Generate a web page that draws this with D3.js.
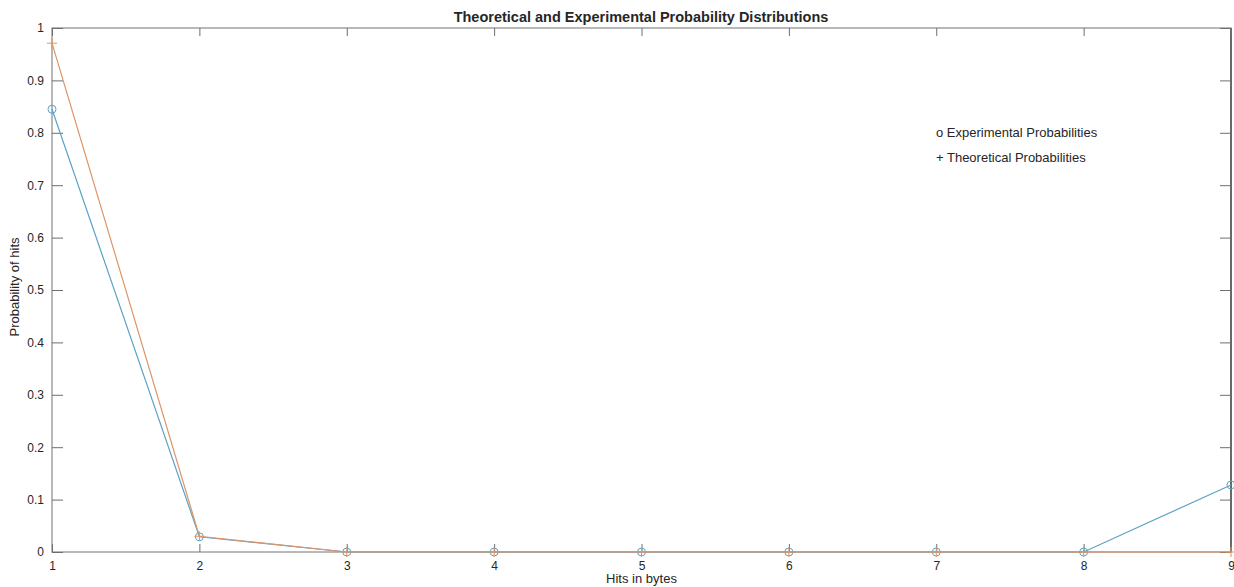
<!DOCTYPE html>
<meta charset="utf-8">
<title>Probability Distributions</title>
<style>
body{margin:0;background:#fff;}
text{font-family:"Liberation Sans",Arial,sans-serif;fill:#262626;}
.tick text{font-size:12px;}
.domain{display:none;}
.tick line{stroke:#6e6e6e;}
</style>
<body>
<script src="https://d3js.org/d3.v7.min.js"></script>
<script>
var hits = [1, 2, 3, 4, 5, 6, 7, 8, 9];
var experimental = [0.845, 0.029, 0, 0, 0, 0, 0, 0, 0.128];
var theoretical = [0.971, 0.030, 0, 0, 0, 0, 0, 0, 0];
var yTicks = [0, 0.1, 0.2, 0.3, 0.4, 0.5, 0.6, 0.7, 0.8, 0.9, 1];

var W = 1234, H = 587;
var m = {top:28, right:3, bottom:35, left:52};

var svg = d3.select("body").append("svg").attr("width", W).attr("height", H);

var x = d3.scaleLinear().domain([1, 9]).range([m.left, W - m.right]);
var y = d3.scaleLinear().domain([0, 1]).range([H - m.bottom, m.top]);

// box
svg.append("rect")
	.attr("x", x(1)).attr("y", y(1))
	.attr("width", x(9) - x(1)).attr("height", y(0) - y(1))
	.attr("fill", "none").attr("stroke", "#8a8a8a").attr("stroke-width", 1.2);
svg.append("line")
	.attr("x1", x(9)).attr("x2", x(9)).attr("y1", y(1)).attr("y2", y(0))
	.attr("stroke", "#333").attr("stroke-width", 1.2);

// axes, ticks pointing inwards
svg.append("g").attr("transform", "translate(0," + y(0) + ")")
	.call(d3.axisBottom(x).tickValues(hits).tickSize(-8).tickPadding(9).tickFormat(d3.format("d")));
svg.append("g").attr("transform", "translate(0," + y(1) + ")")
	.call(d3.axisTop(x).tickValues(hits).tickSize(-8).tickFormat(""));
svg.append("g").attr("transform", "translate(" + x(1) + ",0)")
	.call(d3.axisLeft(y).tickValues(yTicks).tickSize(-11).tickPadding(8).tickFormat(d => d3.format("")(d)));
svg.append("g").attr("transform", "translate(" + x(9) + ",0)")
	.call(d3.axisRight(y).tickValues(yTicks).tickSize(-11).tickFormat(""));

svg.selectAll(".tick text").attr("font-family", null);

var line = d3.line().x((d, i) => x(hits[i])).y(d => y(d));

var blue = "#5aa3c6", orange = "#de9466";

svg.append("path").datum(experimental).attr("d", line)
	.attr("fill", "none").attr("stroke", blue).attr("stroke-width", 1.2);
svg.selectAll(".circ").data(experimental).enter().append("circle")
	.attr("class", "circ")
	.attr("cx", (d, i) => x(hits[i])).attr("cy", d => y(d)).attr("r", 4)
	.attr("fill", "none").attr("stroke", blue).attr("stroke-width", 1);

svg.append("path").datum(theoretical).attr("d", line)
	.attr("fill", "none").attr("stroke", orange).attr("stroke-width", 1.2);
svg.selectAll(".plus").data(theoretical).enter().append("path")
	.attr("class", "plus")
	.attr("transform", (d, i) => "translate(" + x(hits[i]) + "," + y(d) + ")")
	.attr("d", "M-5,0H5M0,-5V5")
	.attr("stroke", orange).attr("stroke-width", 1);

// title and labels
svg.append("text").attr("x", 641).attr("y", 22)
	.attr("text-anchor", "middle").style("font-size", "14.5px").style("font-weight", "bold")
	.text("Theoretical and Experimental Probability Distributions");
svg.append("text").attr("x", x(5)).attr("y", 583)
	.attr("text-anchor", "middle").style("font-size", "13px")
	.text("Hits in bytes");
svg.append("text").attr("transform", "translate(19,287) rotate(-90)")
	.attr("text-anchor", "middle").style("font-size", "13px")
	.text("Probability of hits");

// legend text
svg.append("text").attr("x", 936).attr("y", 137).style("font-size", "13px")
	.text("o Experimental Probabilities");
svg.append("text").attr("x", 936).attr("y", 162).style("font-size", "13px")
	.text("+ Theoretical Probabilities");
</script>
</body>
